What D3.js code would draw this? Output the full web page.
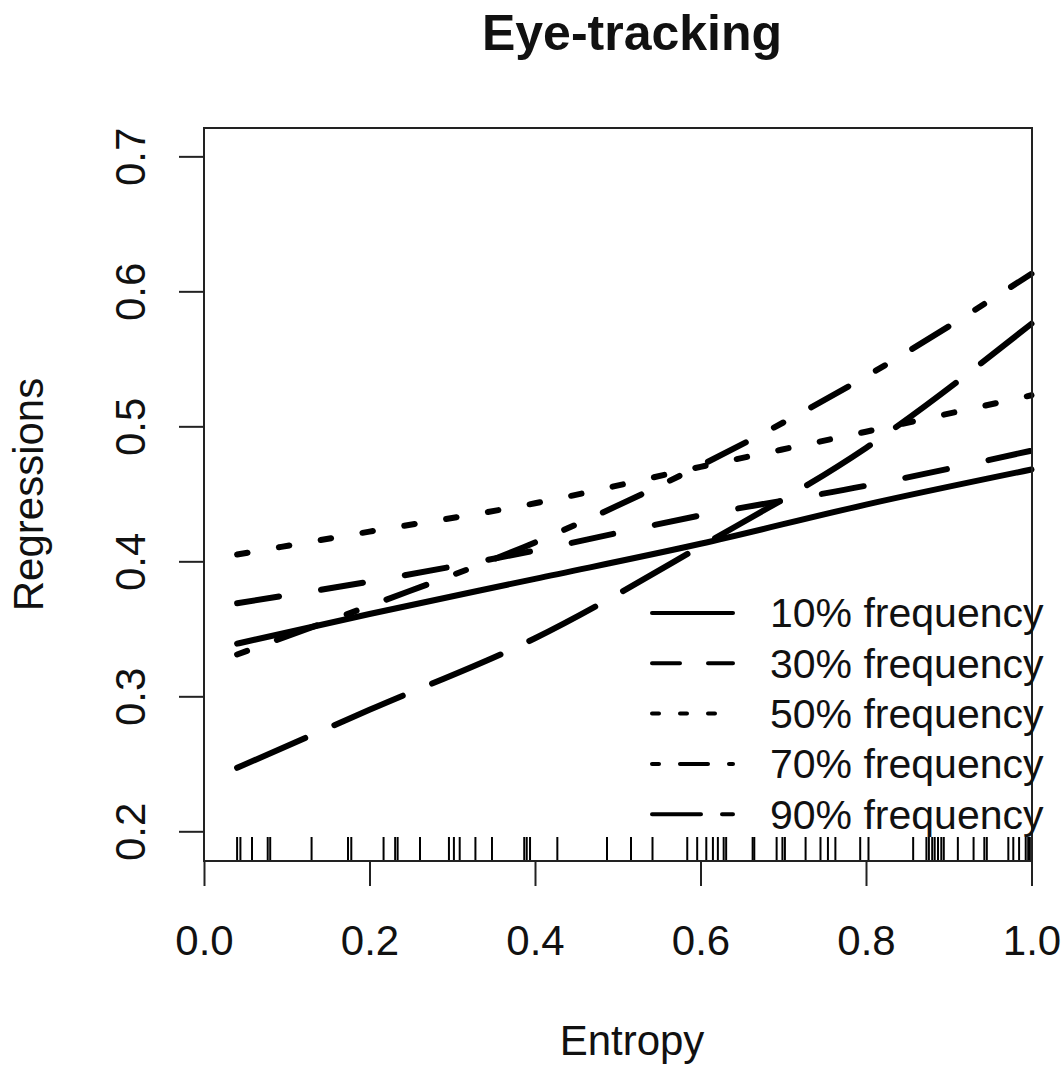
<!DOCTYPE html>
<html>
<head>
<meta charset="utf-8">
<script src="https://cdn.jsdelivr.net/npm/d3@7"></script>
<style>
  body { margin: 0; background: #fff; }
  text { font-family: "Liberation Sans", Arial, Helvetica, sans-serif; fill: #111; }
</style>
</head>
<body>
<div id="chart"></div>
<script>
// Data
var entropy = [0.04, 0.2, 0.4, 0.6, 0.8, 1.0];
var freq10 = [0.339, 0.361, 0.387, 0.413, 0.442, 0.468];
var freq30 = [0.369, 0.385, 0.408, 0.434, 0.456, 0.482];
var freq50 = [0.405, 0.422, 0.443, 0.470, 0.496, 0.523];
var freq70 = [0.331, 0.367, 0.414, 0.471, 0.537, 0.613];
var freq90 = [0.247, 0.290, 0.343, 0.411, 0.484, 0.576];
var seriesLabels = ["10% frequency", "30% frequency", "50% frequency", "70% frequency", "90% frequency"];

// rug of observed entropy values
var rugValues = [0.040, 0.044, 0.058, 0.077, 0.080, 0.130, 0.174, 0.178, 0.217, 0.231,
    0.234, 0.261, 0.296, 0.302, 0.309, 0.328, 0.348, 0.387, 0.390, 0.394,
    0.427, 0.487, 0.516, 0.542, 0.584, 0.596, 0.607, 0.615, 0.621, 0.628,
    0.631, 0.663, 0.665, 0.692, 0.699, 0.702, 0.727, 0.745, 0.754, 0.763,
    0.793, 0.803, 0.857, 0.873, 0.876, 0.880, 0.883, 0.887, 0.891, 0.894,
    0.911, 0.930, 0.943, 0.946, 0.972, 0.978, 0.985, 0.993, 0.996, 0.998];

var xTicks = [0, 0.2, 0.4, 0.6, 0.8, 1.0];
var yTicks = [0.2, 0.3, 0.4, 0.5, 0.6, 0.7];

// R style line types (lty 1..5), plot uses lwd 3, legend lwd 2
var plotDash = ["none", "42.5 42.5", "10.6 31.8", "10.6 31.8 42.5 31.8", "74.4 31.8"];
var legendDash = ["none", "28 28", "7 21", "7 21 28 21", "49 21"];

var width = 1063, height = 1067;
var box = {left: 204, right: 1032, top: 128, bottom: 861};

var x = d3.scaleLinear().domain([0, 1]).range([box.left, 1031.5]);
var y = d3.scaleLinear().domain([0.178, 0.721]).range([box.bottom, box.top]);

var svg = d3.select("#chart")
    .append("svg")
        .attr("width", width)
        .attr("height", height)
        .style("background", "#fff");

var series = [freq10, freq30, freq50, freq70, freq90];

var valueline = d3.line()
    .x(function(d, i) { return x(entropy[i]); })
    .y(function(d) { return y(d); })
    .curve(d3.curveMonotoneX);

// Add the lines
series.forEach(function(s, i) {
    svg.append("path")
        .datum(s)
        .attr("fill", "none")
        .attr("stroke", "#000")
        .attr("stroke-width", 6)
        .attr("stroke-linecap", "round")
        .attr("stroke-dasharray", plotDash[i])
        .attr("d", valueline);
});

// Rug
svg.append("g")
    .selectAll("line")
    .data(rugValues)
    .enter().append("line")
    .attr("x1", function(d) { return x(d); })
    .attr("x2", function(d) { return x(d); })
    .attr("y1", box.bottom)
    .attr("y2", box.bottom - 24)
    .attr("stroke", "#000")
    .attr("stroke-width", 2);

// Box
svg.append("rect")
    .attr("x", box.left)
    .attr("y", box.top)
    .attr("width", box.right - box.left)
    .attr("height", box.bottom - box.top)
    .attr("fill", "none")
    .attr("stroke", "#222")
    .attr("stroke-width", 2);

// X axis
var xAxis = svg.append("g")
    .attr("transform", "translate(0," + box.bottom + ")")
    .call(d3.axisBottom(x).tickValues(xTicks).tickSize(25).tickFormat(d3.format(".1f")));
xAxis.select(".domain").remove();
xAxis.selectAll("line").attr("stroke", "#222").attr("stroke-width", 2);
xAxis.selectAll("text")
    .attr("y", 94)
    .attr("dy", "0")
    .style("font-size", "42px")
    .style("font-family", "'Liberation Sans', Arial, sans-serif")
    .attr("fill", "#111");

// Y axis
var yAxis = svg.append("g")
    .attr("transform", "translate(" + box.left + ",0)")
    .call(d3.axisLeft(y).tickValues(yTicks).tickSize(25).tickFormat(d3.format(".1f")));
yAxis.select(".domain").remove();
yAxis.selectAll("line").attr("stroke", "#222").attr("stroke-width", 2);
yAxis.selectAll("text")
    .attr("transform", "rotate(-90)")
    .attr("x", 0)
    .attr("y", -59)
    .attr("dy", "0")
    .style("text-anchor", "middle")
    .style("font-size", "42px")
    .style("font-family", "'Liberation Sans', Arial, sans-serif")
    .attr("fill", "#111");

// Legend
var legend = svg.append("g");
seriesLabels.forEach(function(label, i) {
    var ly = 613 + i * 50.3;
    legend.append("line")
        .attr("x1", 652)
        .attr("x2", 733)
        .attr("y1", ly)
        .attr("y2", ly)
        .attr("stroke", "#000")
        .attr("stroke-width", 4)
        .attr("stroke-linecap", "round")
        .attr("stroke-dasharray", legendDash[i]);
    legend.append("text")
        .attr("x", 770)
        .attr("y", ly)
        .attr("dy", "0.35em")
        .style("font-size", "41px")
        .text(label);
});

// Axis titles
svg.append("text")
    .attr("x", 632)
    .attr("y", 1055)
    .attr("text-anchor", "middle")
    .style("font-size", "42px")
    .text("Entropy");

svg.append("text")
    .attr("transform", "translate(43," + ((box.top + box.bottom) / 2) + ") rotate(-90)")
    .attr("text-anchor", "middle")
    .style("font-size", "42px")
    .text("Regressions");

// Title
svg.append("text")
    .attr("x", 632)
    .attr("y", 50)
    .attr("text-anchor", "middle")
    .style("font-size", "50px")
    .style("font-weight", "bold")
    .text("Eye-tracking");
</script>
</body>
</html>
